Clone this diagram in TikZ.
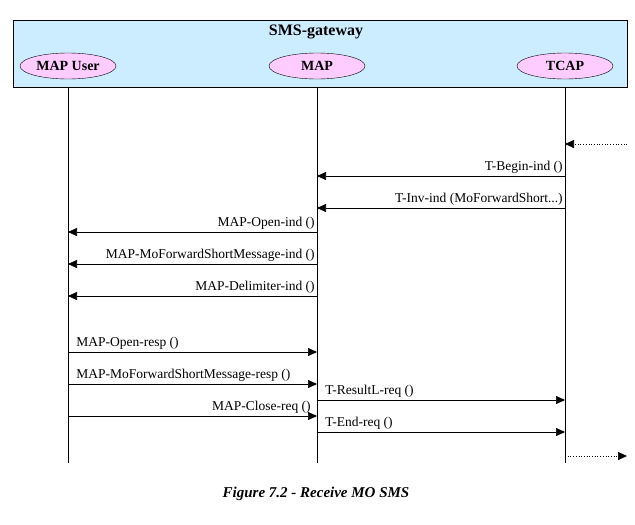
\documentclass[tikz,border=0pt]{standalone}
\usepackage{fontspec}
\setmainfont{Liberation Serif}
\usetikzlibrary{shapes.geometric,arrows.meta}
\definecolor{gwblue}{RGB}{204,236,255}
\definecolor{entpink}{RGB}{255,204,255}

\tikzset{
  entity/.style={ellipse, draw, fill=entpink, minimum width=96pt, minimum height=26pt, inner sep=0pt, font=\fontsize{14}{16}\selectfont\bfseries},
  msg/.style={-{Triangle[length=9pt,width=8pt]}, line width=0.7pt},
  ext/.style={msg, dotted},
  lbl/.style={font=\fontsize{13.5}{15}\selectfont, inner sep=2pt}
}

\begin{document}
\begin{tikzpicture}[x=1pt,y=-1pt]
\useasboundingbox (0,0) rectangle (635,525);

\draw[fill=gwblue] (13,20) rectangle (627,87);
\node[font=\fontsize{16}{18}\selectfont\bfseries] (gw) at (316,32) {SMS-gateway};

\node[entity] (user) at (68,66) {MAP User};
\node[entity] (map) at (317,66) {MAP};
\node[entity] (tcap) at (565,66) {TCAP};

% lifelines
\foreach \n in {user,map,tcap}
  \draw (\n |- 0,87) -- (\n |- 0,463);

% outside world
\coordinate (inbound) at (627,144);
\coordinate (outbound) at (627,456);
\draw[ext] (inbound) -- (tcap |- inbound);

% TCAP -> MAP
\draw[msg] (tcap |- 0,176) -- node[lbl,pos=0,above left]{T-Begin-ind ()} (map |- 0,176);
\draw[msg] (tcap |- 0,208) -- node[lbl,pos=0,above left]{T-Inv-ind (MoForwardShort...)} (map |- 0,208);

% MAP -> MAP User
\draw[msg] (map |- 0,232) -- node[lbl,pos=0,above left]{MAP-Open-ind ()} (user |- 0,232);
\draw[msg] (map |- 0,264) -- node[lbl,pos=0,above left]{MAP-MoForwardShortMessage-ind ()} (user |- 0,264);
\draw[msg] (map |- 0,296) -- node[lbl,pos=0,above left]{MAP-Delimiter-ind ()} (user |- 0,296);

% MAP User -> MAP
\draw[msg] (user |- 0,352) -- node[lbl,pos=0,above right,xshift=6pt]{MAP-Open-resp ()} (map |- 0,352);
\draw[msg] (user |- 0,384) -- node[lbl,pos=0,above right,xshift=6pt]{MAP-MoForwardShortMessage-resp ()} (map |- 0,384);
\draw[msg] (user |- 0,416) -- node[lbl,pos=1,above left,xshift=-4pt]{MAP-Close-req ()} (map |- 0,416);

% MAP -> TCAP
\draw[msg] (map |- 0,400) -- node[lbl,pos=0,above right,xshift=6pt]{T-ResultL-req ()} (tcap |- 0,400);
\draw[msg] (map |- 0,432) -- node[lbl,pos=0,above right,xshift=6pt]{T-End-req ()} (tcap |- 0,432);

\draw[ext] (tcap |- outbound) -- (outbound);

\node[font=\fontsize{15}{17}\selectfont\bfseries\itshape] (cap) at (316,494) {Figure 7.2 - Receive MO SMS};
\end{tikzpicture}
\end{document}
